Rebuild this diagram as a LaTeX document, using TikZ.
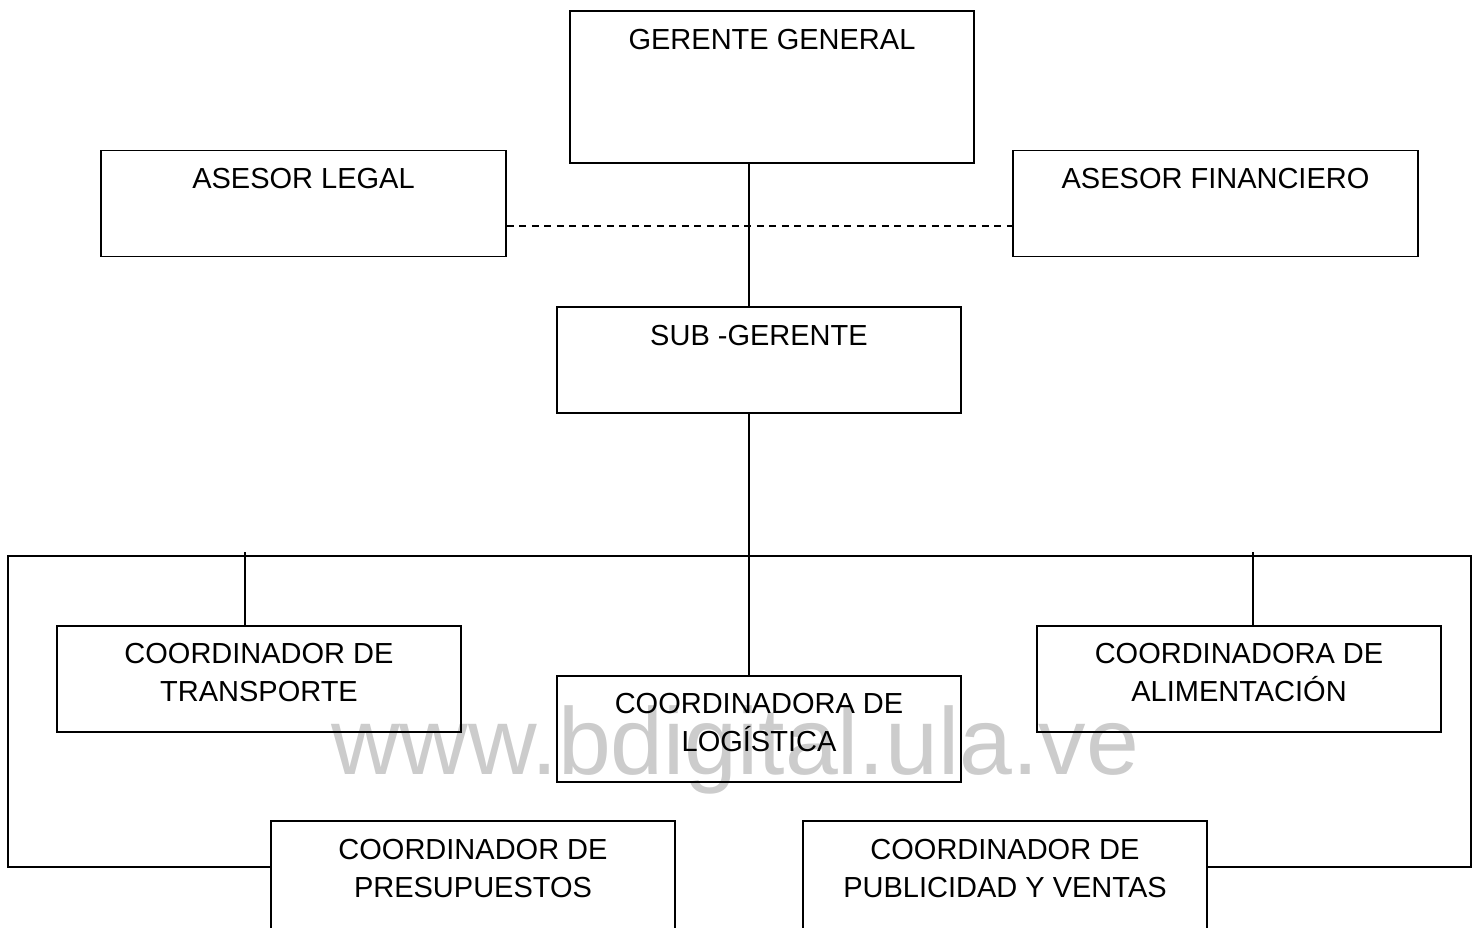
\documentclass[tikz,border=0pt]{standalone}
\usepackage{fontspec}
\setmainfont{Liberation Sans}
\usepackage{tikz}
\usetikzlibrary{positioning}
\tikzstyle{box}=[rectangle, draw=black, line width=1.6, minimum width=404, minimum height=106, inner sep=0]
\tikzstyle{lbl}=[font=\fontsize{29}{38}\selectfont, align=center, anchor=base, inner sep=0]
\tikzstyle{wm}=[font=\fontsize{95}{95}\selectfont, text=black!20, anchor=base, inner sep=0]
\tikzstyle{l1}=[line width=1.6]
\tikzstyle{dash1}=[l1, line width=1.4, dash pattern=on 7pt off 5.5pt]

\begin{document}
\begin{tikzpicture}[x=1pt,y=-1pt]
    \useasboundingbox (0,0) rectangle (1479,927);
    \node[wm] (wmark) at (735,774) {www.bdigital.ula.ve};

    \node[box, minimum height=152] (gg) at (772,87) {};
    \node[box, minimum width=405] (al) at (303.5,203.5) {};
    \node[box, minimum width=405] (af) at (1215.5,203.5) {};
    \node[box] (sg) at (759,360) {};
    \node[box] (ct) at (259,679) {};
    \node[box] (cl) at (759,729) {};
    \node[box] (ca) at (1239,679) {};
    \node[box, minimum height=120] (cp) at (473,881) {};
    \node[box, minimum height=120] (cv) at (1005,881) {};

    % base = last line of the label
    \node[lbl] (gg-t) at (772,49.5) {GERENTE GENERAL};
    \node[lbl] (al-t) at (303.5,188.5) {ASESOR LEGAL};
    \node[lbl] (af-t) at (1215.5,188.5) {ASESOR FINANCIERO};
    \node[lbl] (sg-t) at (759,345.5) {SUB -GERENTE};
    \node[lbl] (ct-t) at (259,701.5) {COORDINADOR DE\\TRANSPORTE};
    \node[lbl] (cl-t) at (759,751.5) {COORDINADORA DE\\LOGÍSTICA};
    \node[lbl] (ca-t) at (1239,701.5) {COORDINADORA DE\\ALIMENTACIÓN};
    \node[lbl] (cp-t) at (473,897.5) {COORDINADOR DE\\PRESUPUESTOS};
    \node[lbl] (cv-t) at (1005,897.5) {COORDINADOR DE\\PUBLICIDAD Y VENTAS};

    \coordinate (bus) at (749,556);
    \coordinate (lnk) at (749,226);
    \coordinate (busL) at (8,556);
    \coordinate (busR) at (1471,556);
    \coordinate (loopL) at (8,867);
    \coordinate (tapL) at (245,552);
    \coordinate (tapR) at (1253,552);

    \draw[l1] (gg.south -| bus) -- (sg.north -| bus);
    \draw[dash1] (al.east |- lnk) -- (af.west |- lnk);
    \draw[l1] (sg.south -| bus) -- (cl.north -| bus);
    \draw[l1] (cp.west |- loopL) -- (loopL) -- (busL) -- (busR) -- (busR |- loopL) -- (cv.east |- loopL);
    \draw[l1] (tapL) -- (ct.north -| tapL);
    \draw[l1] (tapR) -- (ca.north -| tapR);
\end{tikzpicture}
\end{document}
